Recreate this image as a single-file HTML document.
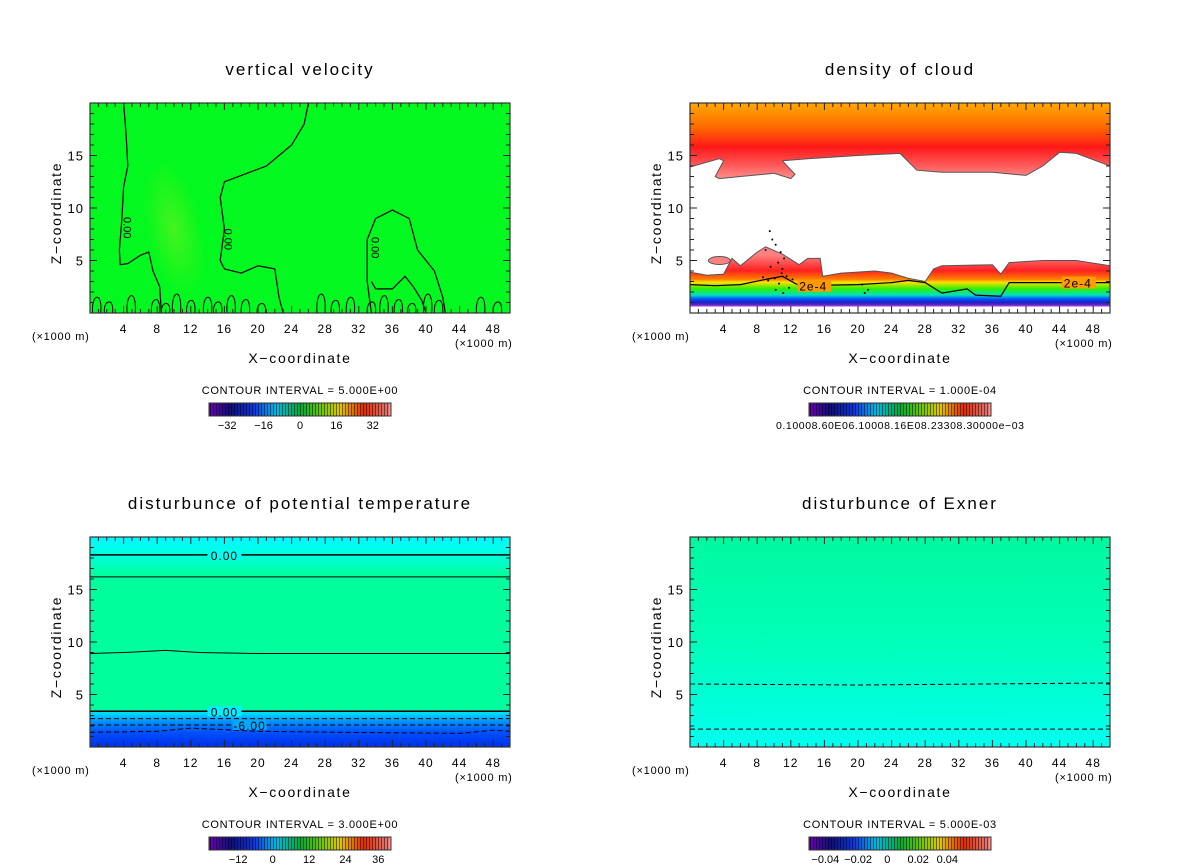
<!DOCTYPE html>
<html><head><meta charset="utf-8"><style>
body{margin:0;background:#fff;}
svg{display:block;font-family:"Liberation Sans",sans-serif;}
</style></head><body>
<svg id="c" width="1200" height="868" viewBox="0 0 1200 868" xmlns="http://www.w3.org/2000/svg">
<defs>
<linearGradient id="cbg" x1="0" x2="1" y1="0" y2="0">
<stop offset="0" stop-color="#7a00c8"/><stop offset="0.12" stop-color="#10108a"/><stop offset="0.25" stop-color="#1040ff"/>
<stop offset="0.37" stop-color="#00d0ff"/><stop offset="0.5" stop-color="#00c040"/><stop offset="0.62" stop-color="#80e000"/>
<stop offset="0.72" stop-color="#ffe000"/><stop offset="0.85" stop-color="#ff3000"/><stop offset="1" stop-color="#ff9090"/>
</linearGradient>
<linearGradient id="g2top" gradientUnits="userSpaceOnUse" x1="0" y1="103" x2="0" y2="183">
<stop offset="0" stop-color="#ffa800"/><stop offset="0.3" stop-color="#ff6a00"/><stop offset="0.55" stop-color="#ff1818"/><stop offset="0.8" stop-color="#ff6060"/><stop offset="1" stop-color="#ffa0a0"/>
</linearGradient>
<linearGradient id="g2bot" gradientUnits="userSpaceOnUse" x1="0" y1="255" x2="0" y2="313">
<stop offset="0" stop-color="#ff8080"/><stop offset="0.27" stop-color="#ff2020"/><stop offset="0.42" stop-color="#ff8000"/><stop offset="0.47" stop-color="#ffe000"/>
<stop offset="0.58" stop-color="#30f000"/><stop offset="0.69" stop-color="#00e0c0"/><stop offset="0.76" stop-color="#0050ff"/><stop offset="0.82" stop-color="#2020c0"/><stop offset="0.87" stop-color="#8020d0"/><stop offset="0.9" stop-color="#ffffff"/>
</linearGradient>
<linearGradient id="g3" gradientUnits="userSpaceOnUse" x1="0" y1="537" x2="0" y2="747">
<stop offset="0" stop-color="#00f8ff"/><stop offset="0.08" stop-color="#00ffe0"/><stop offset="0.12" stop-color="#00ffc8"/><stop offset="0.18" stop-color="#00ff9c"/>
<stop offset="0.82" stop-color="#00ff9c"/><stop offset="0.84" stop-color="#00d8ff"/><stop offset="0.88" stop-color="#0090ff"/><stop offset="0.93" stop-color="#0050ff"/><stop offset="1" stop-color="#0030e8"/>
</linearGradient>
<linearGradient id="g4" gradientUnits="userSpaceOnUse" x1="0" y1="537" x2="0" y2="747">
<stop offset="0" stop-color="#00f8a0"/><stop offset="0.5" stop-color="#00ffb8"/><stop offset="1" stop-color="#00fff0"/>
</linearGradient>
<radialGradient id="plume" cx="0.5" cy="0.5" r="0.5">
<stop offset="0" stop-color="#70f020" stop-opacity="0.6"/><stop offset="1" stop-color="#70f020" stop-opacity="0"/>
</radialGradient>
</defs>
<g id="root"></g>
</svg>
<script>
const NS="http://www.w3.org/2000/svg";
const root=document.getElementById('root');
const xTicks=[4,8,12,16,20,24,28,32,36,40,44,48];
const zTicks=[5,10,15];
const titles=["vertical velocity","density of cloud","disturbunce of potential temperature","disturbunce of Exner"];
const intervals=["CONTOUR INTERVAL = 5.000E+00","CONTOUR INTERVAL = 1.000E-04","CONTOUR INTERVAL = 3.000E+00","CONTOUR INTERVAL = 5.000E-03"];
const cbLabels=[["-32","-16","0","16","32"],[],["-12","0","12","24","36"],["-0.04","-0.02","0","0.02","0.04"]];
const cbPos=[[0.1,0.3,0.5,0.7,0.9],[],[0.16,0.35,0.55,0.75,0.93],[0.09,0.27,0.43,0.6,0.76]];
const w0a=[[4,20],[4.3,17],[4.5,14],[4,12],[3.8,9],[3.5,6],[3.6,4.6],[4.5,4.7],[6,5.5],[7,5.8],[7.5,4],[8.3,2.5],[8.5,0]];
const w0b=[[26,20],[25.5,18],[24,16],[21,14],[16,12.5],[15.5,11],[16,8],[15.5,5],[16,4.2],[18,3.8],[20,4.5],[22,4.2],[22.5,1.5],[23,0]];
const w0c=[[33.5,0],[33,3],[33,7],[34,9],[36,9.8],[38,9],[39,6],[41,4],[42,1.5],[42.3,0]];
const w0d=[[33.5,3],[34,2.3],[36,2.3],[37.5,3.5],[38.5,2.5],[39.5,1.2],[40,0]];
const wiggleX=[0.8,2.2,4.9,7.8,9,10.3,12,14,15.2,16.8,18.5,20.4,27.5,29.2,31,33.5,35,36.7,38.3,40.2,41.5,46.5,48.5];
const c2top=[[0,13.9],[3.5,14.7],[4,14.5],[3,13],[3.5,12.8],[6,13],[10,13.3],[12,12.8],[12.5,13.2],[11,14.5],[14,14.7],[20,15],[25,15.2],[27,13.6],[30,13.4],[36,13.4],[40,13.1],[42,14],[44,15.3],[46,15.2],[50,14]];
const c2bot=[[0,3.9],[2,3.6],[4,3.7],[5,5.2],[6,4.5],[8,5.8],[9,6.3],[11,5.6],[13,4.6],[14,5.2],[15.5,5.2],[15.8,3.5],[18,3.8],[22,4],[24,3.8],[26,3.3],[28,3.0],[29,4.2],[30,4.5],[36,4.6],[37,3.7],[38,4.8],[42,5],[46,5],[50,4.5]];
const c2line=[[0,2.7],[3,2.6],[6,2.7],[9,3.2],[11,3.5],[13,2.6],[20,2.7],[24,2.9],[26,3.1],[28,2.9],[30,1.9],[33,2.3],[34,1.7],[37,1.6],[38,2.9],[42,2.9],[50,2.9]];
const t3lines=[[[0,18.3],[50,18.3]],[[0,16.2],[50,16.2]],[[0,8.9],[4,9],[9,9.2],[13,9],[20,8.9],[32,8.9],[50,8.9]],[[0,3.4],[50,3.4]]];
const t3dash=[[[0,2.7],[50,2.7]],[[0,2.1],[50,2.1]],[[0,1.4],[8,1.5],[12,1.8],[20,1.5],[30,1.4],[44,1.3],[48,1.6],[50,1.5]]];
const e4dash=[[[0,6.0],[20,5.9],[50,6.1]],[[0,1.7],[50,1.7]]];

const panels=[{ox:90,oy:103},{ox:690,oy:103},{ox:90,oy:537},{ox:690,oy:537}];
const W=420,H=210,XMAX=50,ZMAX=20;
function el(t,a,p){const e=document.createElementNS(NS,t);for(const k in a)e.setAttribute(k,a[k]);(p||root).appendChild(e);return e;}
function sx(p,x){return p.ox+x/XMAX*W;}
function sz(p,z){return p.oy+H-z/ZMAX*H;}
function pts(p,arr){return arr.map(q=>sx(p,q[0]).toFixed(1)+","+sz(p,q[1]).toFixed(1)).join(" ");}
function line(p,arr,g,name,dash,wid){
  const e=el('polyline',{points:pts(p,arr),fill:"none",stroke:"#000","stroke-width":wid||1.2},g);
  if(dash)e.setAttribute('stroke-dasharray','5,3');
  
  
  return e;
}
function txt(x,y,s,a,g){const e=el('text',Object.assign({x:x,y:y},a),g);e.textContent=s;return e;}

panels.forEach((p,i)=>{
  const g=el('g',{});
  
  
  const t=txt(p.ox+W/2,p.oy-28,titles[i],{"text-anchor":"middle","font-size":17,"letter-spacing":2,fill:"#000"},g);
  
  
  const clip=el('clipPath',{id:'cl'+i},g);
  el('rect',{x:p.ox,y:p.oy,width:W,height:H},clip);
  const f=el('g',{"clip-path":"url(#cl"+i+")"},g);
  
  
  if(i===0){
    el('rect',{x:p.ox,y:p.oy,width:W,height:H,fill:"#02f81e"},f);
    el('ellipse',{cx:sx(p,10),cy:sz(p,8),rx:28,ry:70,fill:"url(#plume)",transform:"rotate(-12 "+sx(p,10)+" "+sz(p,8)+")"},f);
    line(p,w0a,f,'contour-zero');line(p,w0b,f,'contour-zero');line(p,w0c,f,'contour-zero');line(p,w0d,f,'contour-zero');
    wiggleX.forEach((xx,k)=>{const h=[1.8,1.2,2.0,1.5,1.0,2.2,1.4][k%7];
      el('path',{d:"M"+(sx(p,xx)-4)+","+sz(p,0)+" C"+(sx(p,xx)-6)+","+sz(p,h)+" "+(sx(p,xx)+6)+","+sz(p,h+0.4)+" "+(sx(p,xx)+4)+","+sz(p,0),fill:"none",stroke:"#000","stroke-width":1},f);});
    [[4,8.5],[16,7.4],[33.5,6.6]].forEach(q=>{const l=txt(sx(p,q[0])+4,sz(p,q[1]),"0.00",{"font-size":11,"text-anchor":"middle",transform:"rotate(90 "+(sx(p,q[0]))+" "+sz(p,q[1])+")"},f);
      });
  } else if(i===1){
    el('rect',{x:p.ox,y:p.oy,width:W,height:H,fill:"#fff"},f);
    el('polygon',{points:sx(p,0)+","+p.oy+" "+pts(p,c2top)+" "+sx(p,50)+","+p.oy,fill:"url(#g2top)",stroke:"#555","stroke-width":1},f);
    el('polygon',{points:sx(p,0)+","+(p.oy+H)+" "+pts(p,c2bot)+" "+sx(p,50)+","+(p.oy+H),fill:"url(#g2bot)",stroke:"#555","stroke-width":1},f);
    el('rect',{x:p.ox,y:sz(p,0.45),width:W,height:sz(p,0)-sz(p,0.45),fill:"#fff"},f);
    el('ellipse',{cx:sx(p,3.5),cy:sz(p,5.0),rx:11,ry:4,fill:"#ff8080",stroke:"#555","stroke-width":1},f);
    line(p,c2line,f,'contour-2e-4');
    [[13,2.6],[44.5,2.9]].forEach(q=>{el('rect',{x:sx(p,q[0])-2,y:sz(p,q[1])-6,width:34,height:12,fill:"#ff9a00"},f);
      const l=txt(sx(p,q[0]),sz(p,q[1])+5,"2e-4",{"font-size":12,"letter-spacing":1},f);});
    const dots=[[9.5,7.8],[9.8,7],[10.2,6.5],[9,6],[10.8,5.8],[11.2,5.2],[10.5,4.8],[9.6,4.4],[11,4.2],[10.9,3.8],[8.7,3.4],[9.3,3.1],[10.1,3.3],[11.5,3.5],[12.2,3.2],[10.6,2.8],[11.8,2.4],[10.2,2.2],[11.1,1.9],[20.5,2.7],[21.2,2.2],[20.8,1.9]];
    dots.forEach(q=>el('circle',{cx:sx(p,q[0]),cy:sz(p,q[1]),r:1,fill:"#000"},f));
  } else if(i===2){
    el('rect',{x:p.ox,y:p.oy,width:W,height:H,fill:"url(#g3)"},f);
    t3lines.forEach((l,k)=>line(p,l,f,'contour-line',false,k===0||k===3?1.5:1));
    t3dash.forEach(l=>line(p,l,f,'contour-dashed',true,1));
    [[18.3,"0.00",16,"#00fff0"],[3.4,"0.00",16,"#00f0ff"],[2.1,"-6.00",19,"#00a8ff"]].forEach(q=>{const xx=sx(p,q[2]);el('rect',{x:xx-17,y:sz(p,q[0])-5,width:34,height:10,fill:q[3]},f);
      const l=txt(xx,sz(p,q[0])+5,q[1],{"font-size":12,"text-anchor":"middle","letter-spacing":1},f);});
  } else {
    el('rect',{x:p.ox,y:p.oy,width:W,height:H,fill:"url(#g4)"},f);
    e4dash.forEach(l=>line(p,l,f,'contour-dashed',true,1));
  }
  const fr=el('rect',{x:p.ox,y:p.oy,width:W,height:H,fill:"none",stroke:"#333","stroke-width":1.2},g);
  
  const ax=el('g',{stroke:"#222","stroke-width":1},g);
  
  for(let x=1;x<50;x++){const L=x%4===0?7:4;el('line',{x1:sx(p,x),x2:sx(p,x),y1:p.oy,y2:p.oy+L},ax);el('line',{x1:sx(p,x),x2:sx(p,x),y1:p.oy+H,y2:p.oy+H-L},ax);}
  for(let z=1;z<20;z++){const L=z%5===0?7:4;el('line',{x1:p.ox,x2:p.ox+L,y1:sz(p,z),y2:sz(p,z)},ax);el('line',{x1:p.ox+W,x2:p.ox+W-L,y1:sz(p,z),y2:sz(p,z)},ax);}
  xTicks.forEach(x=>{const l=txt(sx(p,x),p.oy+H+20,String(x),{"text-anchor":"middle","font-size":12,"letter-spacing":1},g);});
  zTicks.forEach(z=>{const l=txt(p.ox-6,sz(p,z)+5,String(z),{"text-anchor":"end","font-size":13,"letter-spacing":1},g);});
  const u1=txt(p.ox-58,p.oy+H+27,"(×1000 m)",{"font-size":11,"letter-spacing":0.8},g);
  const u2=txt(p.ox+W-55,p.oy+H+34,"(×1000 m)",{"font-size":11,"letter-spacing":0.8},g);
  const xt=txt(p.ox+W/2,p.oy+H+50,"X−coordinate",{"text-anchor":"middle","font-size":14,"letter-spacing":1.7},g);
  const zt=txt(0,0,"Z−coordinate",{"text-anchor":"middle","font-size":14,"letter-spacing":1.7,transform:"translate("+(p.ox-29)+","+(p.oy+H/2+5)+") rotate(-90)"},g);
  const ci=txt(p.ox+W/2,p.oy+H+81,intervals[i],{"text-anchor":"middle","font-size":11,"letter-spacing":0.7},g);
  const cb=el('g',{},g);
  const bx=p.ox+119,by=p.oy+H+90,bw=182,bh=13;
  el('rect',{x:bx,y:by,width:bw,height:bh,fill:"url(#cbg)"},cb);
  for(let k=0;k<60;k++){el('line',{x1:bx+1.5+k*3,x2:bx+1.5+k*3,y1:by,y2:by+bh,stroke:"#000","stroke-opacity":0.55,"stroke-width":1.4},cb);}
  el('rect',{x:bx,y:by,width:bw,height:bh,fill:"none",stroke:"#333","stroke-width":1},cb);
  if(i===1){const l=txt(bx+bw/2,by+bh+13,"0.10008.60E06.10008.16E08.23308.30000e−03",{"text-anchor":"middle","font-size":10.5,"textLength":248},cb);}
  cbLabels[i].forEach((s,k)=>{const l=txt(bx+cbPos[i][k]*bw,by+bh+13,s.replace('-','−'),{"text-anchor":"middle","font-size":11},cb);});
});
</script>
</body></html>
